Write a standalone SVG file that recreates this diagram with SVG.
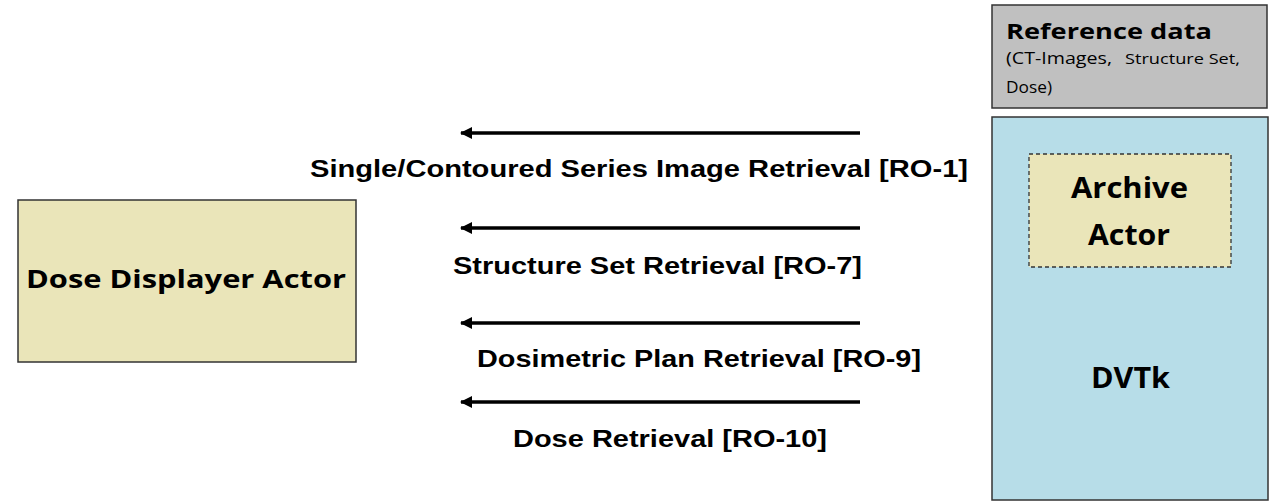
<svg xmlns="http://www.w3.org/2000/svg" width="1271" height="504" viewBox="0 0 1271 504">
<style>
.box{stroke:#333;stroke-width:1.5}
.lbl{font-family:"Liberation Sans",Arial,sans-serif;font-weight:bold;font-size:24.5px;fill:#000}
.nt{font-family:"Open Sans","Noto Sans",sans-serif;font-weight:bold;fill:#000}
.sm{font-family:"Open Sans","Noto Sans",sans-serif;fill:#000}
.conn{stroke:#000;stroke-width:3.5;fill:none;marker-start:url(#ah)}
</style>
<defs>
<marker id="ah" viewBox="0 0 12 12" refX="1" refY="6" markerWidth="12" markerHeight="12" markerUnits="userSpaceOnUse" orient="auto">
<path d="M12,0 L0,6 L12,12 Z" fill="#000"/>
</marker>
</defs>
<rect width="1271" height="504" fill="#fff"/>
<g id="reference-data">
<rect class="box" x="992" y="5" width="275" height="103" fill="#c0c0c0"/>
<text class="nt" x="1006" y="39" font-size="22" textLength="206" lengthAdjust="spacingAndGlyphs">Reference data</text>
<text class="sm" x="1006" y="64" font-size="17"><tspan textLength="106" lengthAdjust="spacingAndGlyphs">(CT-Images,</tspan><tspan x="1125" font-size="14" textLength="115" lengthAdjust="spacingAndGlyphs">Structure Set,</tspan></text>
<text class="sm" x="1006" y="93" font-size="17" textLength="46" lengthAdjust="spacingAndGlyphs">Dose)</text>
</g>
<g id="dvtk">
<rect class="box" x="992" y="117" width="276" height="383" fill="#b7dde8"/>
<text class="nt" x="1091" y="388" font-size="28" textLength="79" lengthAdjust="spacingAndGlyphs">DVTk</text>
</g>
<g id="archive-actor">
<rect x="1029" y="154" width="202" height="113" fill="#eae5b9" stroke="#333" stroke-width="1.3" stroke-dasharray="4,3"/>
<text class="nt" x="1071" y="198" font-size="28" textLength="117" lengthAdjust="spacingAndGlyphs">Archive</text>
<text class="nt" x="1088" y="245" font-size="28" textLength="82" lengthAdjust="spacingAndGlyphs">Actor</text>
</g>
<g id="dose-displayer-actor">
<rect class="box" x="18" y="200" width="338" height="162" fill="#eae5b9"/>
<text class="nt" x="26" y="288" font-size="25" textLength="320" lengthAdjust="spacingAndGlyphs">Dose Displayer Actor</text>
</g>
<g id="connectors">
<line class="conn" x1="461" y1="133" x2="860" y2="133"/>
<line class="conn" x1="461" y1="228" x2="860" y2="228"/>
<line class="conn" x1="461" y1="323" x2="860" y2="323"/>
<line class="conn" x1="461" y1="402" x2="860" y2="402"/>
<text class="lbl" x="310" y="177" textLength="658" lengthAdjust="spacingAndGlyphs">Single/Contoured Series Image Retrieval [RO-1]</text>
<text class="lbl" x="453" y="274" textLength="409" lengthAdjust="spacingAndGlyphs">Structure Set Retrieval [RO-7]</text>
<text class="lbl" x="477" y="367" textLength="444" lengthAdjust="spacingAndGlyphs">Dosimetric Plan Retrieval [RO-9]</text>
<text class="lbl" x="513" y="447" textLength="314" lengthAdjust="spacingAndGlyphs">Dose Retrieval [RO-10]</text>
</g>
</svg>
